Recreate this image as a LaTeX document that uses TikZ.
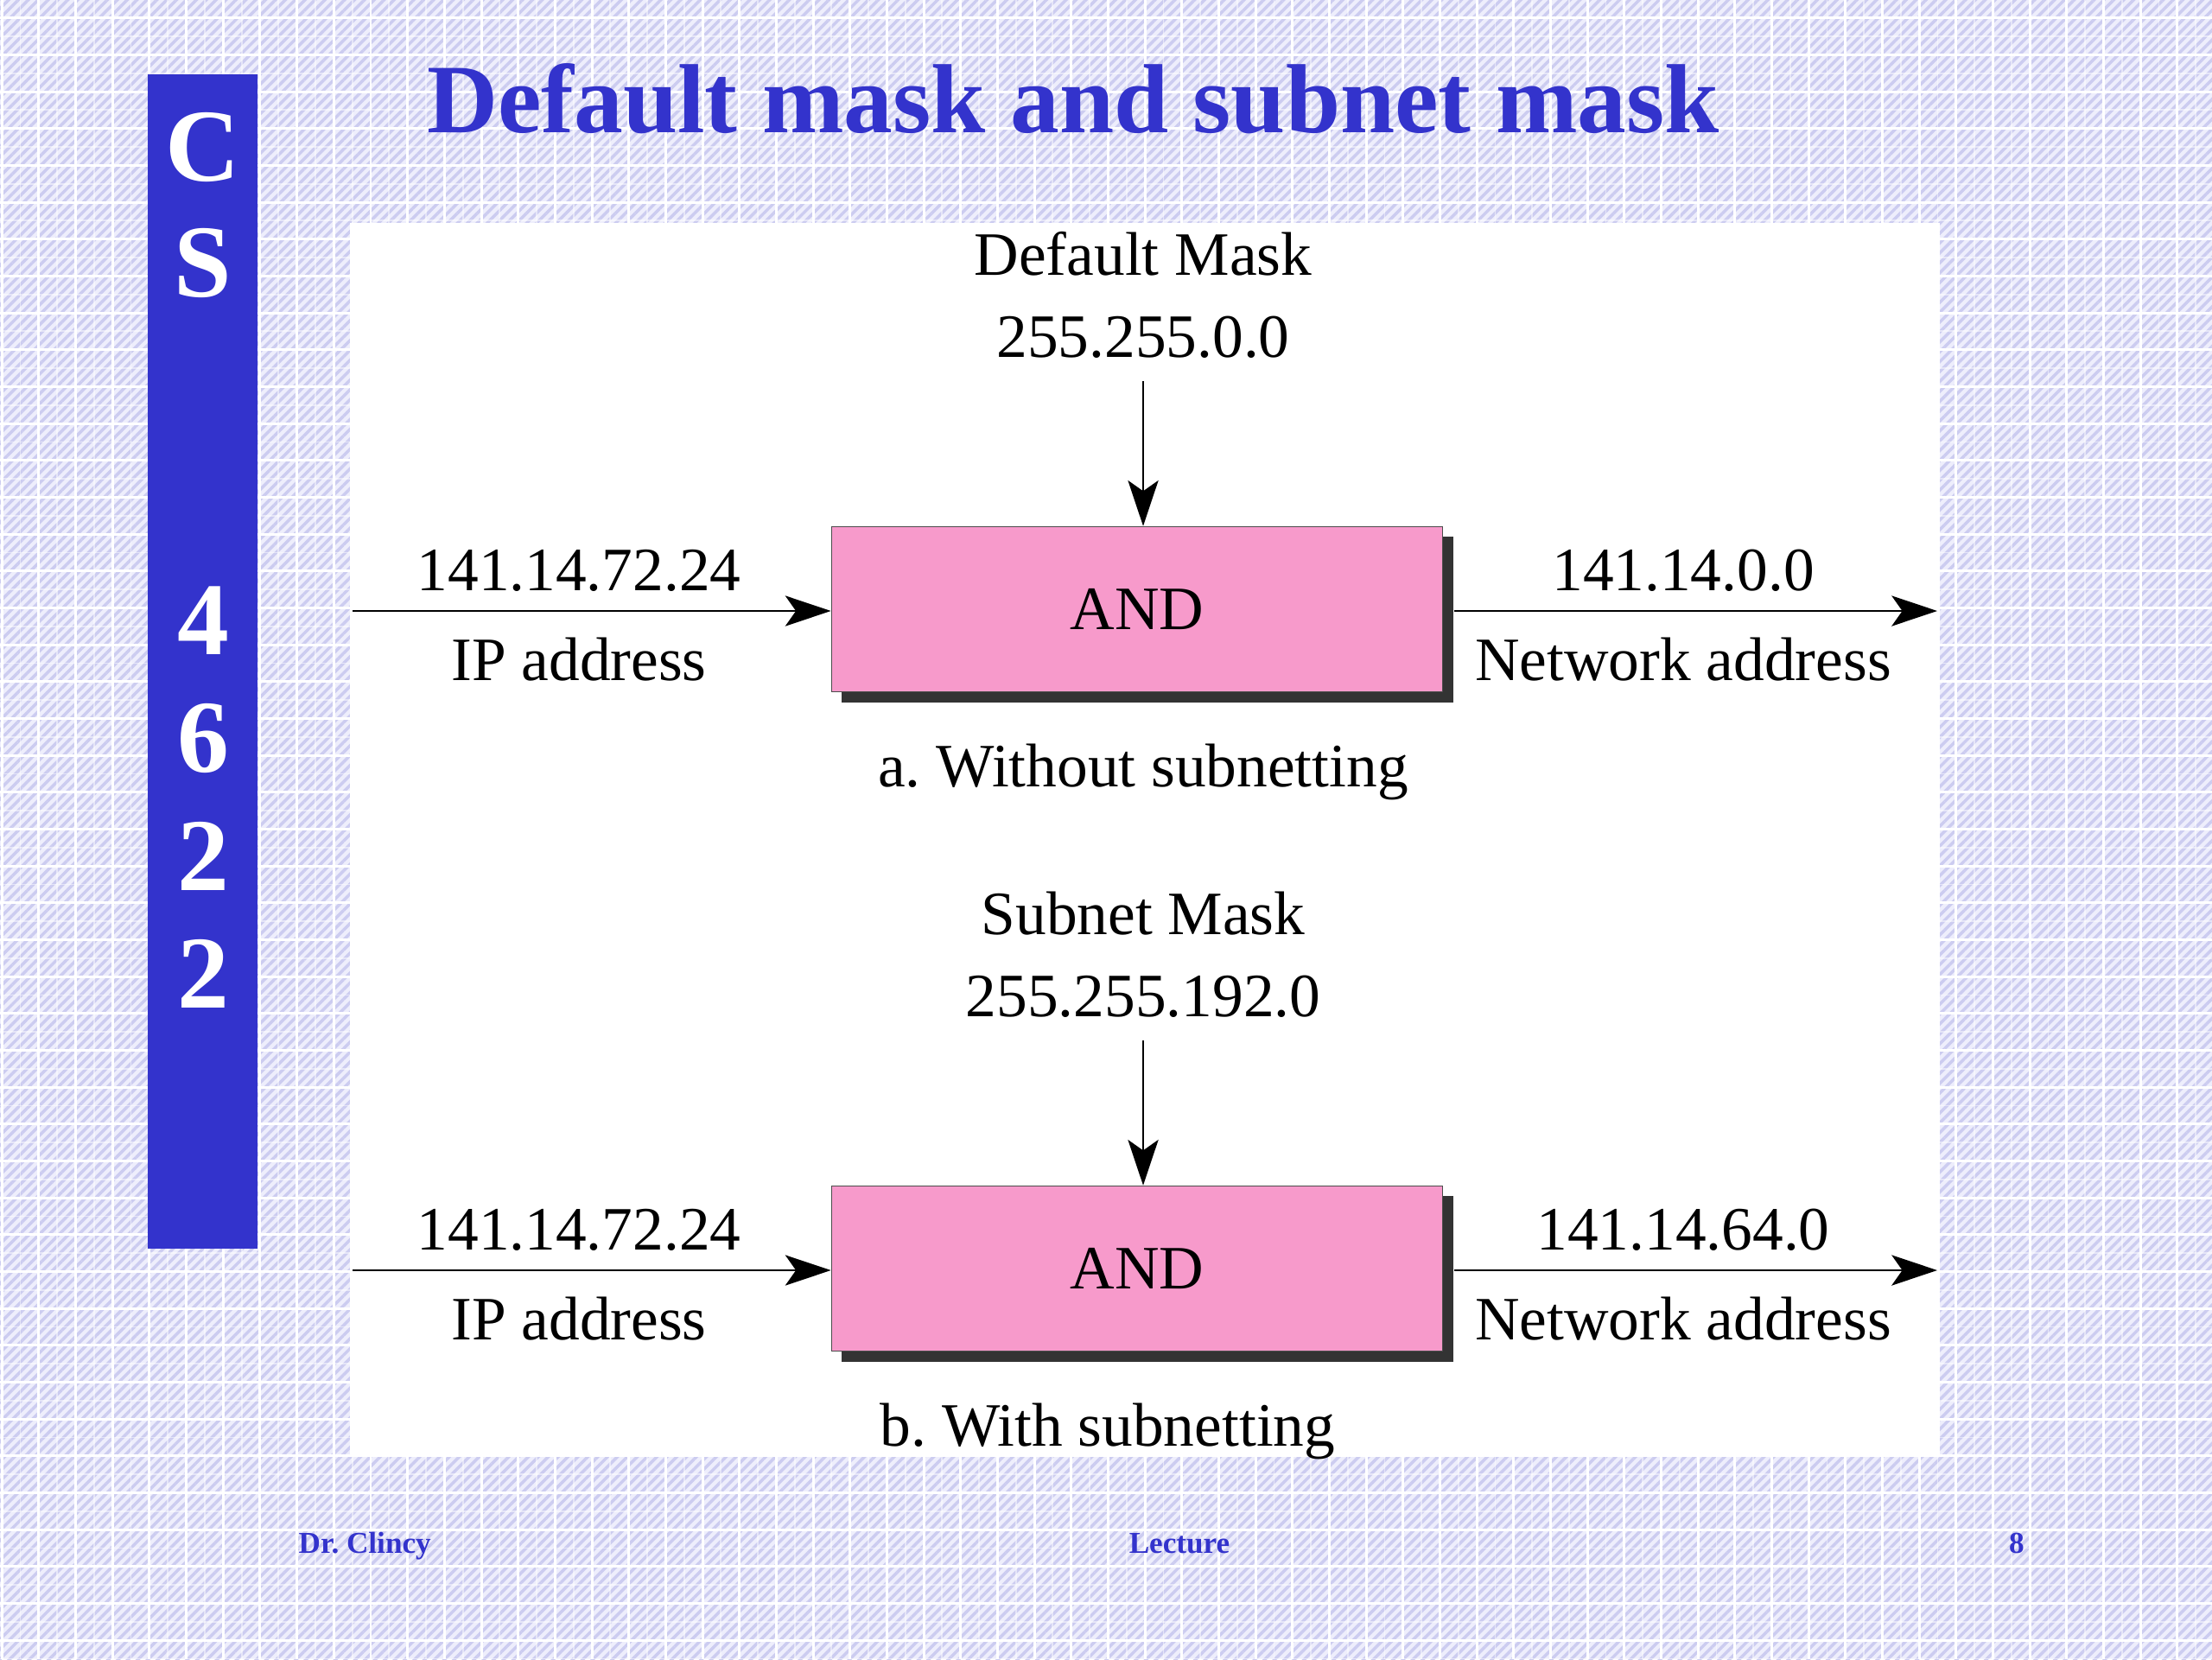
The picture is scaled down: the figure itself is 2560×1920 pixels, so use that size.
\documentclass[tikz,border=0pt]{standalone}
\usepackage{fontspec}
\setmainfont{Liberation Serif}
\usetikzlibrary{arrows.meta,patterns.meta,shadows}
\definecolor{slideblue}{HTML}{3333CC}
\definecolor{andpink}{HTML}{F79ACB}
\definecolor{bglav}{HTML}{EEEEFC}
\definecolor{hatchlav}{HTML}{CCCCF0}
\begin{document}
\begin{tikzpicture}[x=0.01cm,y=-0.01cm,
  lbl/.style={font=\fontsize{20.3}{24}\selectfont, inner sep=0pt, anchor=base},
  andbox/.style={draw=black!70, line width=0.4pt, fill=andpink, minimum width=7.07cm, minimum height=1.91cm, inner sep=0pt,
     font=\fontsize{20.3}{24}\selectfont,
     drop shadow={shadow xshift=0.12cm, shadow yshift=-0.12cm, fill=black!80, opacity=1}},
  arr/.style={line width=0.8pt, -{Stealth[length=15pt,width=10pt,inset=3.5pt]}},
  sidel/.style={font=\bfseries\fontsize{34}{40}\selectfont, text=white, inner sep=0pt},
  foot/.style={font=\bfseries\fontsize{10}{12}\selectfont, text=slideblue, inner sep=0pt, anchor=base}]
\useasboundingbox (0,0) rectangle (2560,1920);
% background
\fill[bglav] (0,0) rectangle (2560,1920);
\fill[pattern={Lines[angle=45,distance=2.3pt,line width=1pt]}, pattern color=hatchlav] (0,0) rectangle (2560,1920);
\foreach \i in {0,...,60} \draw[white, opacity=0.5, line width=0.5pt] ({23.6+42.67*\i},0) -- ++(0,1920);
\foreach \j in {0,...,45} \draw[white, opacity=0.5, line width=0.5pt] (0,{42.0+42.67*\j}) -- ++(2560,0);
\foreach \i in {0,...,60} \draw[white, line width=0.85pt] ({2.3+42.67*\i},0) -- ++(0,1920);
\foreach \j in {0,...,45} \draw[white, line width=0.85pt] (0,{20.7+42.67*\j}) -- ++(2560,0);
% white panel
\fill[white] (405,258) rectangle (2245,1685);
% side bar
\fill[slideblue] (171,86) rectangle (298,1445);
\node[sidel] (sc) at (235,170) {C};
\node[sidel] (ss) at (235,304) {S};
\node[sidel] (s4) at (235,718) {4};
\node[sidel] (s6) at (235,854) {6};
\node[sidel] (s2a) at (235,991) {2};
\node[sidel] (s2b) at (235,1127) {2};
% title
\node[font=\bfseries\fontsize{32.3}{38}\selectfont, text=slideblue, inner sep=0pt] (title) at (1242,114) {Default mask and subnet mask};
% ---- diagram a
\node[andbox] (anda) at (1316,705) {AND};
\node[lbl] (dma) at (1323,318) {Default Mask};
\node[lbl] (mva) at (1323,413) {255.255.0.0};
\node[lbl] (ipa) at (670,683) {141.14.72.24};
\node[lbl] (ipla) at (670,787) {IP address};
\node[lbl] (nwa) at (1948,683) {141.14.0.0};
\node[lbl] (nwla) at (1948,787) {Network address};
\node[lbl] (capa) at (1323,910) {a.\ Without subnetting};
\coordinate (topa) at (1323,441);
\coordinate (ina) at (408,707);
\coordinate (outa) at (2242,707);
\draw[arr] (topa) -- (topa |- anda.north);
\draw[arr] (ina) -- (ina -| anda.west);
\draw[arr] ([xshift=0.13cm]anda.east |- outa) -- (outa);
% ---- diagram b
\node[andbox] (andb) at (1316,1468) {AND};
\node[lbl] (dmb) at (1323,1081) {Subnet Mask};
\node[lbl] (mvb) at (1323,1176) {255.255.192.0};
\node[lbl] (ipb) at (670,1446) {141.14.72.24};
\node[lbl] (iplb) at (670,1550) {IP address};
\node[lbl] (nwb) at (1948,1446) {141.14.64.0};
\node[lbl] (nwlb) at (1948,1550) {Network address};
\node[lbl] (capb) at (1282,1673) {b.\ With subnetting};
\coordinate (topb) at (1323,1204);
\coordinate (inb) at (408,1470);
\coordinate (outb) at (2242,1470);
\draw[arr] (topb) -- (topb |- andb.north);
\draw[arr] (inb) -- (inb -| andb.west);
\draw[arr] ([xshift=0.13cm]andb.east |- outb) -- (outb);
% footer
\node[foot, anchor=base west] (fl) at (345,1797) {Dr.\ Clincy};
\node[foot] (fc) at (1365,1797) {Lecture};
\node[foot] (fr) at (2334,1797) {8};
\end{tikzpicture}
\end{document}
